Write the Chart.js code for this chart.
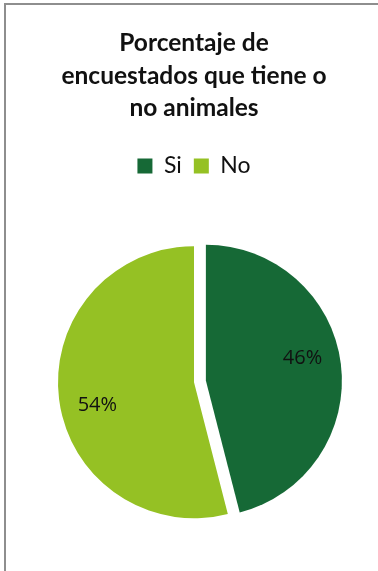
<!DOCTYPE html>
<html>
<head>
<meta charset="utf-8">
<script src="https://cdn.jsdelivr.net/npm/chart.js@4.4.1/dist/chart.umd.min.js"></script>
<style>
  html, body { margin: 0; padding: 0; background: #ffffff; overflow: hidden; }
  #frame { position: absolute; left: 4px; top: 3px; width: 400px; height: 600px; border: 2px solid #8e8e8e; box-sizing: border-box; }
  #wrap { position: absolute; left: 0; top: 0; width: 378px; height: 571px; }
</style>
</head>
<body>
<div id="frame"></div>
<div id="wrap"><canvas id="c"></canvas></div>
<script>
const categories = ['Si', 'No'];
const values = [46, 54];
const valueLabels = ['46%', '54%'];
const titleLines = ['Porcentaje de', 'encuestados que tiene o', 'no animales'];
const colors = ['#166936', '#95c124'];

const explodePlugin = {
  id: 'explode',
  afterDatasetsUpdate(chart) {
    const meta = chart.getDatasetMeta(0);
    const arc = meta.data[0];
    if (!arc) return;
    const half = (arc.startAngle + arc.endAngle) / 2;
    const d = 12;
    arc.x += Math.cos(half) * d;
    arc.y += Math.sin(half) * d;
  }
};

const labelPlugin = {
  id: 'sliceLabels',
  afterDatasetsDraw(chart) {
    const ctx = chart.ctx;
    const meta = chart.getDatasetMeta(0);
    ctx.save();
    ctx.font = '20px "Open Sans", Lato, sans-serif';
    ctx.fillStyle = '#111111';
    ctx.textAlign = 'center';
    ctx.textBaseline = 'middle';
    meta.data.forEach((arc, i) => {
      const a = (arc.startAngle + arc.endAngle) / 2 - 6 * Math.PI / 180;
      const r = arc.outerRadius * 0.73;
      ctx.fillText(valueLabels[i], arc.x + Math.cos(a) * r, arc.y + Math.sin(a) * r);
    });
    ctx.restore();
  }
};

new Chart(document.getElementById('c'), {
  type: 'pie',
  data: {
    labels: categories,
    datasets: [{
      data: values,
      backgroundColor: colors,
      borderWidth: 0,
      radius: 136
    }]
  },
  options: {
    responsive: true,
    maintainAspectRatio: false,
    animation: false,
    layout: { padding: { left: 10, right: 0, top: 0, bottom: 52 } },
    plugins: {
      title: {
        display: true,
        text: titleLines,
        color: '#111111',
        font: { family: 'Lato, "Open Sans", sans-serif', size: 24.5, weight: 'bold', lineHeight: 1.327 },
        padding: { top: 27, bottom: 18 }
      },
      legend: {
        display: true,
        position: 'top',
        labels: {
          color: '#111111',
          font: { family: 'Lato, "Open Sans", sans-serif', size: 23 },
          boxWidth: 15,
          boxHeight: 15,
          padding: 12
        }
      },
      subtitle: {
        display: true,
        text: ' ',
        weight: 500,
        font: { size: 10, lineHeight: 1 },
        padding: { top: 25, bottom: 23 }
      },
      tooltip: { enabled: false }
    }
  },
  plugins: [explodePlugin, labelPlugin]
});
</script>
</body>
</html>
